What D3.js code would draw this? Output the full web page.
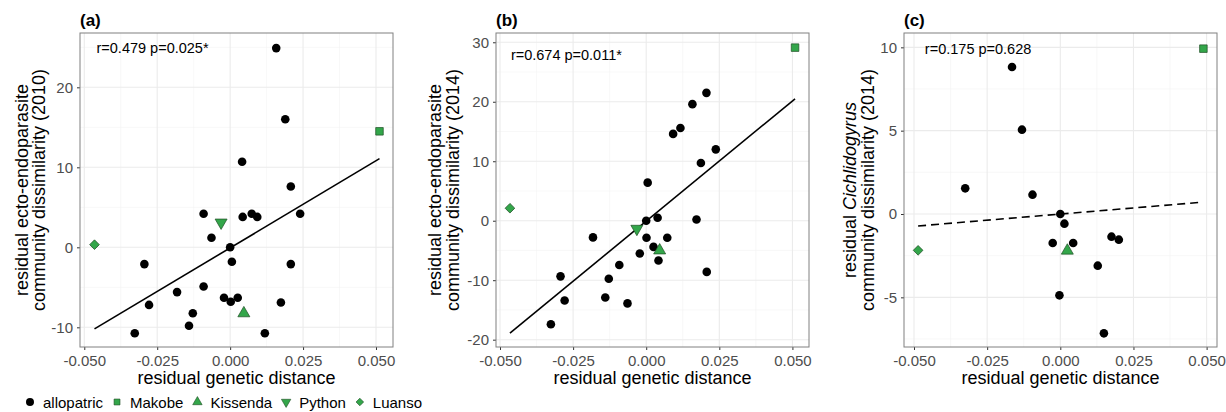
<!DOCTYPE html>
<html>
<head>
<meta charset="utf-8">
<script src="https://cdn.jsdelivr.net/npm/d3@7"></script>
<style>
  body { margin: 0; background: #fff; }
  svg { font-family: "Liberation Sans", Arial, sans-serif; }
</style>
</head>
<body>
<svg id="chart" width="1226" height="412"></svg>
<script>
// groups shown in the legend
var groups = ["allopatric", "Makobe", "Kissenda", "Python", "Luanso"];

// (a) 2010 ecto-endoparasites
var allopA_x = [0.0158, 0.0189, 0.0041, 0.0208, 0.0240, -0.0091, 0.0043, 0.0074, 0.0093, -0.0064,
                0.0000, 0.0006, -0.0294, 0.0208, -0.0091, -0.0182, -0.0021, 0.0026, 0.0002, 0.0174,
                -0.0278, -0.0128, -0.0141, -0.0327, 0.0119];
var allopA_y = [24.9, 16.0, 10.7, 7.6, 4.2, 4.2, 3.8, 4.2, 3.8, 1.2,
                0.0, -1.8, -2.1, -2.1, -4.9, -5.6, -6.3, -6.3, -6.8, -6.9,
                -7.2, -8.25, -9.8, -10.75, -10.75];
var siteA_group = ["Makobe", "Kissenda", "Python", "Luanso"];
var siteA_x = [0.0512, 0.0047, -0.0031, -0.0465];
var siteA_y = [14.5, -8.25, 3.1, 0.33];
var fitA_x = [-0.0465, 0.0512];
var fitA_y = [-10.2, 11.08];

// (b) 2014 ecto-endoparasites
var allopB_x = [0.0206, 0.0158, 0.0117, 0.0092, 0.0238, 0.0187, 0.0005, 0.0000, 0.0039, 0.0172,
                -0.0182, 0.0001, 0.0072, 0.0025, -0.0022, 0.0042, -0.0092, -0.0128, 0.0207, -0.0293,
                -0.0279, -0.0140, -0.0064, -0.0326];
var allopB_y = [21.5, 19.6, 15.6, 14.6, 12.0, 9.7, 6.4, 0.0, 0.5, 0.2,
                -2.8, -2.86, -2.86, -4.4, -5.5, -6.7, -7.45, -9.75, -8.6, -9.35,
                -13.4, -12.9, -13.9, -17.4];
var siteB_group = ["Makobe", "Kissenda", "Python", "Luanso"];
var siteB_x = [0.0509, 0.0046, -0.0032, -0.0466];
var siteB_y = [29.1, -5.0, -1.35, 2.1];
var fitB_x = [-0.0466, 0.0509];
var fitB_y = [-18.9, 20.5];

// (c) 2014 Cichlidogyrus
var allopC_x = [-0.0165, -0.0131, -0.0325, -0.0095, 0.0000, 0.0014, -0.0026, 0.0044, 0.0175, 0.0200,
                0.0128, -0.0003, 0.0149];
var allopC_y = [8.82, 5.06, 1.54, 1.16, 0.0, -0.58, -1.74, -1.74, -1.36, -1.54,
                -3.1, -4.88, -7.16];
var siteC_group = ["Makobe", "Kissenda", "Luanso"];
var siteC_x = [0.0489, 0.0024, -0.0486];
var siteC_y = [9.92, -2.2, -2.18];
var fitC_x = [-0.0486, 0.0478];
var fitC_y = [-0.72, 0.70];

var xTicks = [-0.05, -0.025, 0, 0.025, 0.05];
var yTicksA = [-10, 0, 10, 20];
var yTicksB = [-20, -10, 0, 10, 20, 30];
var yTicksC = [-5, 0, 5, 10];

var green = "#33a64a";
var svg = d3.select("#chart");

function shapeFor(g) {
  if (g == "Makobe" || g == "Luanso") return d3.symbolSquare;
  if (g == "allopatric") return d3.symbolCircle;
  return d3.symbolTriangle;
}
function turn(g) {
  if (g == "Python") return " rotate(180)";
  if (g == "Luanso") return " rotate(45)";
  return "";
}
var shapeSize = { allopatric: 58, Makobe: 44, Kissenda: 48, Python: 48, Luanso: 36 };

function drawPanel(p) {
  var g = svg.append("g");
  var x = d3.scaleLinear().domain(p.xDom).range([p.left, p.right]);
  var y = d3.scaleLinear().domain(p.yDom).range([347, 33]);

  // minor grid
  var xMinor = xTicks.slice(1).map(function (d) { return d - 0.0125; }).concat([0.0625]);
  var yStep = p.yTicks[1] - p.yTicks[0];
  var yMinor = p.yTicks.map(function (d) { return d + yStep / 2; }).concat([p.yTicks[0] - yStep / 2]);
  g.selectAll(".xmin").data(xMinor.filter(function (d) { return d > p.xDom[0] && d < p.xDom[1]; }))
    .enter().append("line")
    .attr("x1", x).attr("x2", x).attr("y1", 33).attr("y2", 347)
    .attr("stroke", "#f4f4f4").attr("stroke-width", 0.6);
  g.selectAll(".ymin").data(yMinor.filter(function (d) { return d > p.yDom[0] && d < p.yDom[1]; }))
    .enter().append("line")
    .attr("y1", y).attr("y2", y).attr("x1", p.left).attr("x2", p.right)
    .attr("stroke", "#f4f4f4").attr("stroke-width", 0.6);
  // major grid
  g.selectAll(".xmaj").data(xTicks).enter().append("line")
    .attr("x1", x).attr("x2", x).attr("y1", 33).attr("y2", 347)
    .attr("stroke", "#ebebeb").attr("stroke-width", 1.1);
  g.selectAll(".ymaj").data(p.yTicks).enter().append("line")
    .attr("y1", y).attr("y2", y).attr("x1", p.left).attr("x2", p.right)
    .attr("stroke", "#ebebeb").attr("stroke-width", 1.1);

  // axes
  var xAxis = g.append("g").attr("transform", "translate(0,347)")
    .call(d3.axisBottom(x).tickValues(xTicks).tickSize(3).tickPadding(5.5));
  var yAxis = g.append("g").attr("transform", "translate(" + p.left + ",0)")
    .call(d3.axisLeft(y).tickValues(p.yTicks).tickSize(3).tickPadding(4));
  [xAxis, yAxis].forEach(function (a) {
    a.select(".domain").remove();
    a.selectAll(".tick line").attr("stroke", "#333").attr("stroke-width", 1);
    a.selectAll("text").attr("fill", "#4d4d4d").style("font-size", "15px")
      .style("font-family", "'Liberation Sans', Arial, sans-serif");
  });
  xAxis.selectAll("text").text(function (d) { return d3.format(".3f")(d).replace("−", "-"); });
  yAxis.selectAll("text").text(function (d) { return String(d); });

  // panel border
  g.append("rect").attr("x", p.left).attr("y", 33)
    .attr("width", p.right - p.left).attr("height", 314)
    .attr("fill", "none").attr("stroke", "#808080").attr("stroke-width", 1);

  // fit line
  var fit = d3.zip(p.fitX, p.fitY);
  g.append("path").datum(fit)
    .attr("d", d3.line().x(function (d) { return x(d[0]); }).y(function (d) { return y(d[1]); }))
    .attr("stroke", "#000").attr("stroke-width", 1.6).attr("fill", "none")
    .attr("stroke-dasharray", p.dashed ? "8,5" : null);

  // allopatric points
  g.selectAll(".allo").data(d3.zip(p.ax, p.ay)).enter().append("circle")
    .attr("cx", function (d) { return x(d[0]); })
    .attr("cy", function (d) { return y(d[1]); })
    .attr("r", 4.3).attr("fill", "#000");

  // sympatric sites
  var sites = p.sg.map(function (s, i) { return { g: s, x: p.sx[i], y: p.sy[i] }; });
  g.selectAll(".site").data(sites).enter().append("path")
    .attr("d", function (d) { return d3.symbol().type(shapeFor(d.g)).size(shapeSize[d.g] * 1.3)(); })
    .attr("transform", function (d) {
      return "translate(" + x(d.x) + "," + y(d.y) + ")" + turn(d.g);
    })
    .attr("fill", green).attr("stroke", "#1e4d24").attr("stroke-width", 0.7);

  // correlation label
  g.append("text").attr("x", x(p.lab[0])).attr("y", y(p.lab[1]))
    .attr("text-anchor", "middle").attr("dominant-baseline", "central")
    .style("font-size", "14.5px").attr("fill", "#000").text(p.stat);

  // panel tag
  g.append("text").attr("x", p.left).attr("y", 26)
    .style("font-size", "17px").style("font-weight", "bold").text(p.tag);

  // x title
  g.append("text").attr("x", (p.left + p.right) / 2).attr("y", 384)
    .attr("text-anchor", "middle").style("font-size", "18px").text("residual genetic distance");

  // y title, two lines
  var yt1 = g.append("text").attr("text-anchor", "middle").style("font-size", "18px")
    .attr("transform", "translate(" + (p.left + p.yt[0]) + ",190) rotate(-90)");
  if (p.italic) {
    yt1.append("tspan").text("residual ");
    yt1.append("tspan").style("font-style", "italic").text(p.italic);
  } else {
    yt1.text(p.ytitle1);
  }
  g.append("text").attr("text-anchor", "middle").style("font-size", "18px")
    .attr("transform", "translate(" + (p.left + p.yt[1]) + ",190) rotate(-90)")
    .text(p.ytitle2);
}

drawPanel({
  tag: "(a)", left: 80, right: 393, xDom: [-0.05147, 0.05583], yDom: [-12.46, 26.79], yTicks: yTicksA,
  ax: allopA_x, ay: allopA_y, sg: siteA_group, sx: siteA_x, sy: siteA_y, fitX: fitA_x, fitY: fitA_y,
  stat: "r=0.479 p=0.025*", lab: [-0.0266, 24.9], yt: [-52, -35],
  ytitle1: "residual ecto-endoparasite", ytitle2: "community dissimilarity (2010)"
});
drawPanel({
  tag: "(b)", left: 496, right: 809, xDom: [-0.05137, 0.05567], yDom: [-21.23, 31.56], yTicks: yTicksB,
  ax: allopB_x, ay: allopB_y, sg: siteB_group, sx: siteB_x, sy: siteB_y, fitX: fitB_x, fitY: fitB_y,
  stat: "r=0.674 p=0.011*", lab: [-0.0273, 27.8], yt: [-55, -37],
  ytitle1: "residual ecto-endoparasite", ytitle2: "community dissimilarity (2014)"
});
drawPanel({
  tag: "(c)", left: 904, right: 1217, xDom: [-0.05342, 0.05355], yDom: [-7.98, 10.86], yTicks: yTicksC,
  ax: allopC_x, ay: allopC_y, sg: siteC_group, sx: siteC_x, sy: siteC_y, fitX: fitC_x, fitY: fitC_y,
  stat: "r=0.175 p=0.628", lab: [-0.0281, 9.92], yt: [-48, -30], dashed: true,
  italic: "Cichlidogyrus", ytitle2: "community dissimilarity (2014)"
});

// legend
var lg = svg.append("g").attr("transform", "translate(0,402)");
var cx = 30;
groups.forEach(function (grp) {
  lg.append("path")
    .attr("d", d3.symbol().type(shapeFor(grp)).size(grp == "allopatric" ? 50 : shapeSize[grp] * 0.8)())
    .attr("transform", "translate(" + cx + ",0)" + turn(grp))
    .attr("fill", grp == "allopatric" ? "#000" : green)
    .attr("stroke", grp == "allopatric" ? "none" : "#1e4d24").attr("stroke-width", 0.6);
  var t = lg.append("text").attr("x", cx + 13).attr("y", 0)
    .attr("dominant-baseline", "central").style("font-size", "15px").text(grp);
  cx = cx + 13 + t.node().getComputedTextLength() + 14;
});
</script>
</body>
</html>
